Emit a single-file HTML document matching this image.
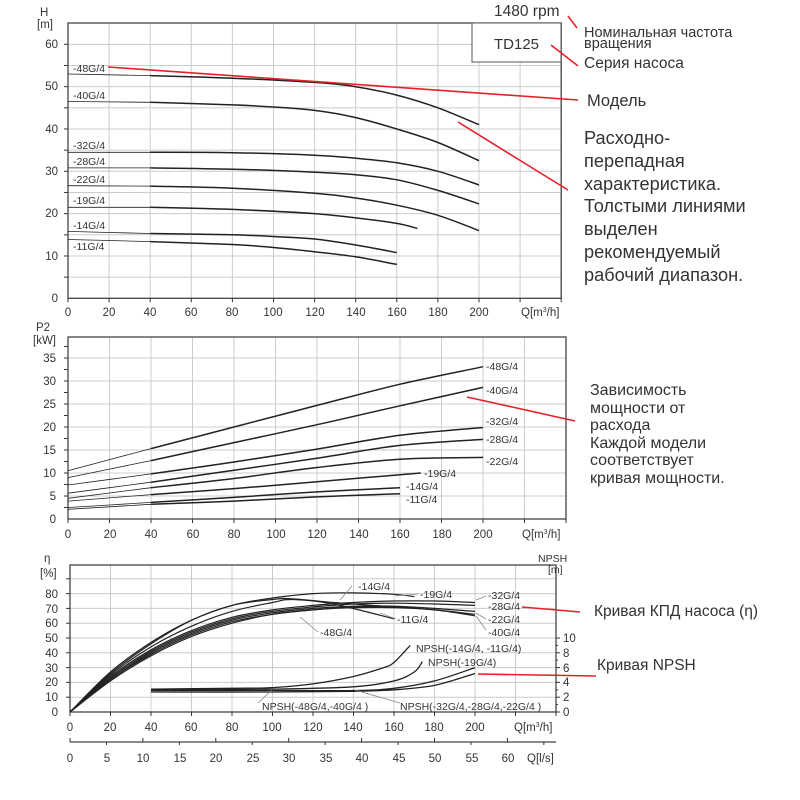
<!DOCTYPE html>
<html><head><meta charset="utf-8"><style>
html,body{margin:0;padding:0;background:#fff}
svg{display:block}
text{font-family:"Liberation Sans","DejaVu Sans",sans-serif;fill:#333}
.t{font-size:11.5px}
.a{font-size:10.5px}
</style></head><body>
<svg id="s" width="800" height="800" viewBox="0 0 800 800" xmlns="http://www.w3.org/2000/svg">
<g id="g"></g>
<text x="40" y="16" class="t">H</text><text x="37" y="28" class="t">[m]</text>
<g class="t" text-anchor="end">
<text x="58" y="302">0</text><text x="58" y="260">10</text><text x="58" y="217">20</text><text x="58" y="175">30</text><text x="58" y="133">40</text><text x="58" y="90">50</text><text x="58" y="48">60</text>
</g>
<g class="t" text-anchor="middle">
<text x="68" y="316">0</text><text x="109" y="316">20</text><text x="150" y="316">40</text><text x="191" y="316">60</text><text x="232" y="316">80</text><text x="273" y="316">100</text><text x="315" y="316">120</text><text x="356" y="316">140</text><text x="397" y="316">160</text><text x="438" y="316">180</text><text x="479" y="316">200</text>
</g>
<text x="521" y="316" class="t">Q[m<tspan font-size="7" dy="-4">3</tspan><tspan dy="4">/h]</tspan></text>
<g class="a">
<text x="73" y="72">-48G/4</text><text x="73" y="99">-40G/4</text><text x="73" y="149">-32G/4</text><text x="73" y="165">-28G/4</text><text x="73" y="183">-22G/4</text><text x="73" y="204">-19G/4</text><text x="73" y="229">-14G/4</text><text x="73" y="250">-11G/4</text>
</g>
<rect x="472" y="23" width="89" height="39" fill="#fff" stroke="#555"/>
<text x="494" y="49" font-size="15">TD125</text>
<text x="494" y="16" font-size="15.5">1480 rpm</text>
<text x="584" y="37" font-size="14.5">Номинальная частота</text>
<text x="584" y="48" font-size="14.5">вращения</text>
<text x="584" y="68" font-size="15.5">Серия насоса</text>
<text x="587" y="106" font-size="16.5">Модель</text>
<g font-size="18.2">
<text x="584" y="144">Расходно-</text><text x="584" y="167">перепадная</text><text x="584" y="190">характеристика.</text><text x="584" y="212">Толстыми линиями</text><text x="584" y="235">выделен</text><text x="584" y="258">рекомендуемый</text><text x="584" y="281">рабочий диапазон.</text>
</g>
<text x="36" y="331" class="t">P2</text><text x="33" y="344" class="t">[kW]</text>
<g class="t" text-anchor="end">
<text x="56" y="523">0</text><text x="56" y="500">5</text><text x="56" y="477">10</text><text x="56" y="454">15</text><text x="56" y="431">20</text><text x="56" y="408">25</text><text x="56" y="385">30</text><text x="56" y="362">35</text>
</g>
<g class="t" text-anchor="middle">
<text x="68" y="538">0</text><text x="110" y="538">20</text><text x="151" y="538">40</text><text x="193" y="538">60</text><text x="234" y="538">80</text><text x="276" y="538">100</text><text x="317" y="538">120</text><text x="359" y="538">140</text><text x="400" y="538">160</text><text x="442" y="538">180</text><text x="483" y="538">200</text>
</g>
<text x="522" y="538" class="t">Q[m<tspan font-size="7" dy="-4">3</tspan><tspan dy="4">/h]</tspan></text>
<g class="a">
<text x="486" y="370">-48G/4</text><text x="486" y="394">-40G/4</text><text x="486" y="425">-32G/4</text><text x="486" y="443">-28G/4</text><text x="486" y="465">-22G/4</text><text x="424" y="477">-19G/4</text><text x="406" y="490">-14G/4</text><text x="406" y="503">-11G/4</text>
</g>
<g font-size="16">
<text x="590" y="395">Зависимость</text><text x="590" y="413">мощности от</text><text x="590" y="430">расхода</text><text x="590" y="448">Каждой модели</text><text x="590" y="465">соответствует</text><text x="590" y="483">кривая мощности.</text>
</g>
<text x="44" y="562" class="t">η</text><text x="40" y="577" class="t">[%]</text>
<text x="538" y="562" class="a">NPSH</text><text x="548" y="573" class="a">[m]</text>
<g class="t" text-anchor="end">
<text x="58" y="716">0</text><text x="58" y="701">10</text><text x="58" y="686">20</text><text x="58" y="672">30</text><text x="58" y="657">40</text><text x="58" y="642">50</text><text x="58" y="627">60</text><text x="58" y="613">70</text><text x="58" y="598">80</text>
</g>
<g class="t">
<text x="563" y="716">0</text><text x="563" y="701">2</text><text x="563" y="686">4</text><text x="563" y="672">6</text><text x="563" y="657">8</text><text x="563" y="642">10</text>
</g>
<g class="t" text-anchor="middle">
<text x="70" y="731">0</text><text x="110" y="731">20</text><text x="151" y="731">40</text><text x="191" y="731">60</text><text x="232" y="731">80</text><text x="272" y="731">100</text><text x="313" y="731">120</text><text x="353" y="731">140</text><text x="394" y="731">160</text><text x="434" y="731">180</text><text x="475" y="731">200</text>
<text x="70" y="762">0</text><text x="107" y="762">5</text><text x="143" y="762">10</text><text x="180" y="762">15</text><text x="216" y="762">20</text><text x="253" y="762">25</text><text x="289" y="762">30</text><text x="326" y="762">35</text><text x="362" y="762">40</text><text x="399" y="762">45</text><text x="435" y="762">50</text><text x="472" y="762">55</text><text x="508" y="762">60</text>
</g>
<text x="514" y="731" class="t">Q[m<tspan font-size="7" dy="-4">3</tspan><tspan dy="4">/h]</tspan></text>
<text x="527" y="762" class="t">Q[l/s]</text>
<g class="a">
<text x="358" y="590">-14G/4</text><text x="420" y="598">-19G/4</text><text x="397" y="623">-11G/4</text><text x="320" y="636">-48G/4</text>
<text x="488" y="599">-32G/4</text><text x="488" y="610">-28G/4</text><text x="488" y="623">-22G/4</text><text x="488" y="636">-40G/4</text>
<text x="416" y="652">NPSH(-14G/4, -11G/4)</text><text x="428" y="666">NPSH(-19G/4)</text>
<text x="262" y="710">NPSH(-48G/4,-40G/4 )</text><text x="400" y="710">NPSH(-32G/4,-28G/4,-22G/4 )</text>
</g>
<text x="594" y="616" font-size="15.5">Кривая КПД насоса (η)</text>
<text x="597" y="670" font-size="15.5">Кривая NPSH</text>
<g stroke="#e8202a" stroke-width="1.6" fill="none">
<line x1="108" y1="67" x2="578" y2="100"/>
<line x1="458" y1="122" x2="568" y2="190"/>
<line x1="568" y1="16" x2="577" y2="28"/>
<line x1="551" y1="45" x2="578" y2="66"/>
<line x1="467" y1="397" x2="575" y2="421"/>
<line x1="522" y1="607" x2="580" y2="612"/>
<line x1="478" y1="674" x2="596" y2="676"/>
</g>
</svg>
<script>
var g=document.getElementById('g'),NS='http://www.w3.org/2000/svg';
function el(t,a){var e=document.createElementNS(NS,t);for(var k in a)e.setAttribute(k,a[k]);g.appendChild(e);return e;}
function path(pts,w){var d='M'+pts[0][0].toFixed(1)+' '+pts[0][1].toFixed(1);
for(var i=0;i<pts.length-1;i++){var p0=pts[i-1]||pts[i],p1=pts[i],p2=pts[i+1],p3=pts[i+2]||p2;
d+='C'+(p1[0]+(p2[0]-p0[0])/6).toFixed(1)+' '+(p1[1]+(p2[1]-p0[1])/6).toFixed(1)+' '+(p2[0]-(p3[0]-p1[0])/6).toFixed(1)+' '+(p2[1]-(p3[1]-p1[1])/6).toFixed(1)+' '+p2[0].toFixed(1)+' '+p2[1].toFixed(1);}
el('path',{d:d,fill:'none',stroke:'#222','stroke-width':w});}
function chart(x0,sx,y0,top,hsteps,minor){
 var right=x0+240*sx;
 for(var q=20;q<=240;q+=20)el('line',{x1:x0+q*sx,y1:top,x2:x0+q*sx,y2:y0,stroke:'#ccc','stroke-width':1});
 hsteps.forEach(function(y){el('line',{x1:x0,y1:y,x2:right,y2:y,stroke:'#ccc','stroke-width':1});});
 minor.forEach(function(y){el('line',{x1:x0-4,y1:y,x2:x0,y2:y,stroke:'#333'});});
 el('rect',{x:x0,y:top,width:240*sx,height:y0-top,fill:'none',stroke:'#444','stroke-width':1.3});
 for(var q=0;q<=240;q+=20)el('line',{x1:x0+q*sx,y1:y0,x2:x0+q*sx,y2:y0+4,stroke:'#333'});
}
var tx=function(q){return 68+q*2.055},ty=function(h){return 298.3-h*4.233};
var hs=[],mn=[];for(var h=5;h<=60;h+=5){hs.push(ty(h));mn.push(ty(h));}
chart(68,2.055,298.3,23,hs,mn);
var H=[[[0,53],[40,52.6],[80,52],[120,51],[140,50],[160,48],[180,45],[200,41]],
[[0,46.5],[40,46.3],[80,45.7],[100,45.2],[120,44.4],[140,42.7],[160,40],[180,36.8],[200,32.5]],
[[0,34.5],[40,34.5],[80,34.4],[120,33.8],[140,33.1],[160,32],[180,30],[200,26.8]],
[[0,30.8],[40,30.8],[80,30.5],[120,29.8],[140,29.2],[160,28],[180,25.5],[200,22.3]],
[[0,26.6],[40,26.5],[80,26],[120,24.8],[140,23.7],[160,22],[180,19.6],[200,16]],
[[0,21.5],[40,21.5],[80,21],[120,20],[140,19],[160,17.7],[170,16.5]],
[[0,15.8],[40,15.3],[80,15],[100,14.6],[120,14],[140,12.6],[160,10.8]],
[[0,13.9],[40,13.4],[80,12.7],[100,12],[120,11],[140,9.8],[160,8]]];
H.forEach(function(c){var p=c.map(function(v){return[tx(v[0]),ty(v[1])]});path(p.slice(0,2),0.8);path(p.slice(1),1.5);});
var mx=function(q){return 68+q*2.075},my=function(p){return 519-p*4.6};
hs=[];mn=[];for(var p=5;p<=35;p+=5)hs.push(my(p));for(var p=2.5;p<=37.5;p+=2.5)mn.push(my(p));
chart(68,2.075,519,337,hs,mn);
var P=[[[0,10.5],[40,15.3],[80,20],[120,24.7],[160,29.3],[200,33.1]],
[[0,9],[40,12.7],[80,16.6],[120,20.5],[160,24.6],[200,28.6]],
[[0,7.4],[40,9.8],[80,12.4],[120,15.2],[160,18.2],[200,19.9]],
[[0,5.6],[40,8],[80,10.6],[120,13.2],[160,16],[200,17.3]],
[[0,4.5],[40,6.8],[80,8.8],[120,11.2],[160,13],[200,13.4]],
[[0,3.9],[40,5.3],[80,6.6],[120,8.1],[170,10]],
[[0,2.5],[40,3.6],[80,4.7],[120,5.9],[160,6.8]],
[[0,2.1],[40,3.2],[80,3.9],[120,4.8],[160,5.5]]];
P.forEach(function(c){var p=c.map(function(v){return[mx(v[0]),my(v[1])]});path(p.slice(0,2),0.8);path(p.slice(1),1.5);});
var bx=function(q){return 70+q*2.025},by=function(e){return 712-e*1.48},ny=function(n){return 712-n*7.4};
hs=[];mn=[];for(var e=10;e<=90;e+=10){hs.push(by(e));mn.push(by(e));}
chart(70,2.025,712,565,hs,mn);
for(var n=0;n<=10;n+=2)el('line',{x1:556,y1:ny(n),x2:560,y2:ny(n),stroke:'#333'});
for(var n=1;n<=9;n+=2)el('line',{x1:556,y1:ny(n),x2:558,y2:ny(n),stroke:'#333'});
el('line',{x1:70,y1:742,x2:556,y2:742,stroke:'#444','stroke-width':1.3});
for(var l=0;l<=65;l+=5)el('line',{x1:70+l*7.29,y1:742,x2:70+l*7.29,y2:l%10?745:738,stroke:'#333'});
var E=[[[0,0],[20,27],[40,47],[60,62],[80,72],[100,77],[120,80],[140,80.5],[160,79.5],[170,78]],
[[0,0],[20,26],[40,46],[60,62],[80,72],[100,76],[110,76.5],[130,74],[160,71]],
[[0,0],[20,25],[40,44],[60,58],[80,68],[100,74],[110,76],[130,73],[160,63]],
[[0,0],[20,24],[40,42],[60,55],[80,64],[100,69],[120,72],[140,74],[160,75],[180,75],[200,74]],
[[0,0],[20,23],[40,41],[60,54],[80,63],[100,68],[120,71],[140,73],[160,73.5],[180,73],[200,72]],
[[0,0],[20,22],[40,40],[60,53],[80,62],[100,67],[120,70],[140,71.5],[160,71.5],[180,70],[200,68]],
[[0,0],[20,21],[40,38],[60,51],[80,60],[100,66],[120,69],[140,70.5],[160,70.5],[180,69],[200,65]],
[[0,0],[20,22],[40,39],[60,52],[80,61],[100,66],[120,69],[140,71],[160,71],[180,69],[200,66]]];
E.forEach(function(c){path(c.map(function(v){return[bx(v[0]),by(v[1])]}),1.2);});
var N=[[[40,3.1],[80,3.2],[100,3.3],[120,3.8],[140,4.8],[155,6],[160,6.7],[168,9]],
[[40,3.0],[100,3.1],[140,3.4],[160,4.2],[170,5.4],[174,6.8]],
[[40,2.9],[100,2.9],[140,2.9],[160,3.2],[180,4.2],[200,6]],
[[40,2.7],[100,2.7],[140,2.8],[160,3.0],[180,3.6],[200,5.2]]];
N.forEach(function(c){path(c.map(function(v){return[bx(v[0]),ny(v[1])]}),1.3);});
[[352,586,340,600],[418,594,395,596],[396,619,380,613],[318,632,300,617],[486,596,476,600],[486,619,476,613],[486,630,476,616],[258,703,272,690],[400,703,355,690]].forEach(function(l){el('line',{x1:l[0],y1:l[1],x2:l[2],y2:l[3],stroke:'#888','stroke-width':0.8});});
</script>
</body></html>
